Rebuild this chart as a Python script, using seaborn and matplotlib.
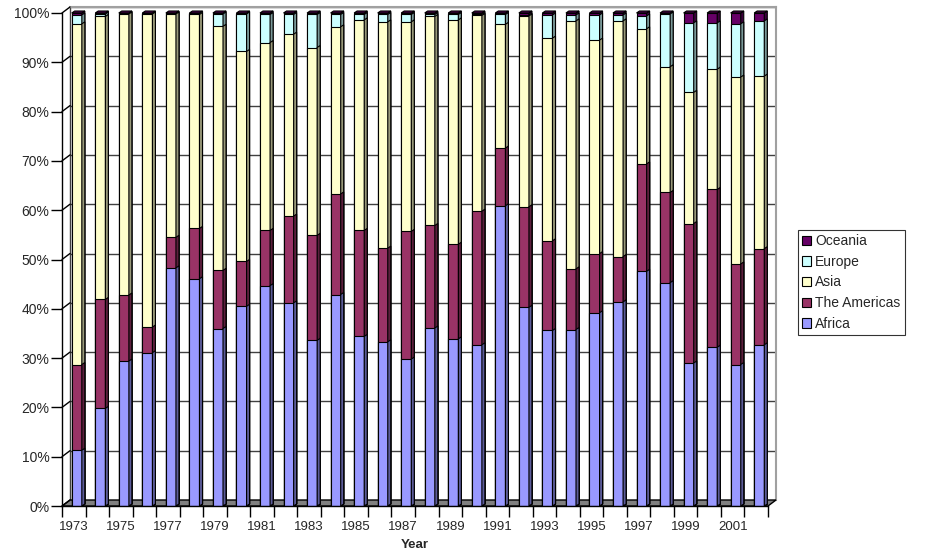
import numpy as np
import pandas as pd
import matplotlib
matplotlib.use("Agg")
import matplotlib.pyplot as plt
import seaborn as sns
from matplotlib.patches import Polygon, Patch
from matplotlib.lines import Line2D

# Share of each region per year (percent)
years = list(range(1973, 2003))
africa = [11.3, 19.8, 29.4, 31.1, 48.3, 46.1, 36.0, 40.5, 44.7, 41.2,
          33.6, 42.9, 34.4, 33.3, 29.8, 36.1, 33.9, 32.7, 60.9, 40.3,
          35.6, 35.8, 39.2, 41.4, 47.6, 45.3, 29.0, 32.2, 28.7, 32.7]
americas = [17.4, 22.1, 13.4, 5.2, 6.2, 10.2, 11.8, 9.1, 11.2, 17.6,
            21.3, 20.4, 21.5, 19.0, 25.9, 20.8, 19.2, 27.1, 11.7, 20.4,
            18.2, 12.3, 12.0, 9.2, 21.8, 18.3, 28.3, 32.0, 20.4, 19.5]
asia = [69.1, 57.4, 57.0, 63.5, 45.3, 43.4, 49.5, 42.6, 38.1, 36.9,
        38.1, 33.9, 42.7, 45.9, 42.5, 42.4, 45.5, 39.7, 25.1, 38.7,
        41.1, 50.3, 43.3, 47.8, 27.4, 25.5, 26.6, 24.4, 37.9, 35.0]
europe = [1.8, 0.5, 0.1, 0.1, 0.1, 0.2, 2.5, 7.6, 5.7, 4.0,
          6.7, 2.5, 1.1, 1.5, 1.5, 0.4, 1.1, 0.2, 2.0, 0.2,
          4.7, 1.2, 5.1, 1.2, 2.6, 10.7, 14.1, 9.4, 10.8, 11.2]
oceania = [0.4, 0.2, 0.1, 0.1, 0.1, 0.1, 0.2, 0.2, 0.3, 0.3,
           0.3, 0.3, 0.3, 0.3, 0.3, 0.3, 0.3, 0.3, 0.3, 0.4,
           0.4, 0.4, 0.4, 0.4, 0.6, 0.2, 2.0, 2.0, 2.2, 1.6]

regions = ["Africa", "The Americas", "Asia", "Europe", "Oceania"]
colors = {"Africa": "#9999FF", "The Americas": "#993366", "Asia": "#FFFFCC",
          "Europe": "#CCFFFF", "Oceania": "#660066"}

shares = np.array([africa, americas, asia, europe, oceania], dtype=float)
shares = 100 * shares / shares.sum(axis=0)
cum = np.cumsum(shares, axis=0)
year_labels = [str(y) for y in years]
df = pd.DataFrame({
    "year": np.tile(year_labels, len(regions)),
    "region": np.repeat(regions, len(years)),
    "cum": cum.ravel(),
})

sns.set_theme(style="white")
plt.rcParams["font.family"] = ["Liberation Sans", "DejaVu Sans"]

W, H = 926, 558
fig = plt.figure(figsize=(W / 100, H / 100), dpi=100)
fig.patch.set_facecolor("white")


def fx(px):
    return px / W


def fy(py):
    return 1 - py / H


# front plane geometry (pixels) and depth offset of the back wall
X0, X1, Y0, Y100 = 62, 768, 506, 13
DX, DY = 8, -6

# back wall with gridlines
back = fig.add_axes([fx(X0 + DX), fy(Y0 + DY), (X1 - X0) / W, (Y0 - Y100) / H])
back.set_zorder(0)
back.set_xlim(0, 1)
back.set_ylim(0, 100)
for v in range(10, 101, 10):
    back.axhline(v, color="#404040", lw=1)
back.set_xticks([])
back.set_yticks([])
for side in ["top", "right"]:
    back.spines[side].set_color("#a0a0a0")
    back.spines[side].set_linewidth(1.5)
back.spines["left"].set_color("#404040")
back.spines["left"].set_linewidth(1)
back.spines["bottom"].set_visible(False)

# floor
floor = Polygon([(fx(X0), fy(Y0)), (fx(X1), fy(Y0)),
                 (fx(X1 + DX), fy(Y0 + DY)), (fx(X0 + DX), fy(Y0 + DY))],
                closed=True, facecolor="#808080", edgecolor="black", lw=1,
                transform=fig.transFigure, zorder=0.5)
fig.add_artist(floor)

# side wall lines joining front ticks to the back gridlines
for v in range(0, 101, 10):
    yp = Y0 - (Y0 - Y100) * v / 100
    fig.add_artist(Line2D([fx(X0), fx(X0 + DX)], [fy(yp), fy(yp + DY)],
                          color="black", lw=1, transform=fig.transFigure,
                          zorder=0.6))

# front axes with the bars
ax = fig.add_axes([fx(X0), fy(Y0), (X1 - X0) / W, (Y0 - Y100) / H])
ax.set_zorder(1)
ax.patch.set_alpha(0)

slot_px = (X1 - X0) / len(years)
s = 3 / slot_px                 # bars sit slightly behind the front plane
side_dx = 3 / slot_px
side_dy = 2 / ((Y0 - Y100) / 100)


def shade(c, f):
    r, g, b = matplotlib.colors.to_rgb(c)
    return (r * f, g * f, b * f)


for r in reversed(regions):
    n0 = len(ax.patches)
    sns.barplot(data=df[df.region == r], x="year", y="cum", order=year_labels,
                color=colors[r], saturation=1, width=0.43, errorbar=None,
                edgecolor="black", linewidth=0.8, ax=ax)
    bars = list(ax.patches[n0:])
    for p in bars:
        x, w, h = p.get_x(), p.get_width(), p.get_height()
        ax.add_patch(Polygon([(x + w, 0), (x + w, h),
                              (x + w + side_dx, h + side_dy),
                              (x + w + side_dx, side_dy)],
                             closed=True, facecolor=shade(colors[r], 0.6),
                             edgecolor="black", lw=0.8, clip_on=False))
        if r == regions[-1]:
            ax.add_patch(Polygon([(x, h), (x + w, h),
                                  (x + w + side_dx, h + side_dy),
                                  (x + side_dx, h + side_dy)],
                                 closed=True, facecolor=shade(colors[r], 0.8),
                                 edgecolor="black", lw=0.8, clip_on=False))

ax.set_xlim(-0.5 - s, len(years) - 0.5 - s)
ax.set_ylim(0, 100)

ax.set_yticks(range(0, 101, 10))
ax.set_yticklabels([f"{v}%" for v in range(0, 101, 10)])
ax.tick_params(axis="y", which="major", direction="out", length=8, width=1,
               color="black", labelsize=10, pad=1, left=True)

ax.set_xticks([i - s for i in range(0, len(years), 2)])
ax.set_xticklabels([year_labels[i] for i in range(0, len(years), 2)])
ax.set_xticks([i - 0.5 - s for i in range(len(years) + 1)], minor=True)
ax.tick_params(axis="x", which="major", length=0, labelsize=9.5, pad=11,
               bottom=True)
ax.tick_params(axis="x", which="minor", direction="out", length=8, width=1,
               color="black", bottom=True)
ax.set_xlabel("")
ax.set_ylabel("")
for side in ["top", "right"]:
    ax.spines[side].set_visible(False)
for side in ["left", "bottom"]:
    ax.spines[side].set_color("black")
    ax.spines[side].set_linewidth(1)

fig.text(fx(415), fy(545), "Year", ha="center", va="center",
         fontsize=9.5, fontweight="bold")

handles = [Patch(facecolor=colors[r], edgecolor="black", lw=0.8, label=r)
           for r in reversed(regions)]
leg = fig.legend(handles=handles, loc="upper left",
                 bbox_to_anchor=(fx(798), fy(230)), frameon=True,
                 fancybox=False, edgecolor="black", fontsize=10,
                 handlelength=0.65, handleheight=0.65, handletextpad=0.3,
                 labelspacing=0.48, borderpad=0.3, borderaxespad=0)
leg.get_frame().set_linewidth(0.8)

fig.savefig("out.png", dpi=100)
